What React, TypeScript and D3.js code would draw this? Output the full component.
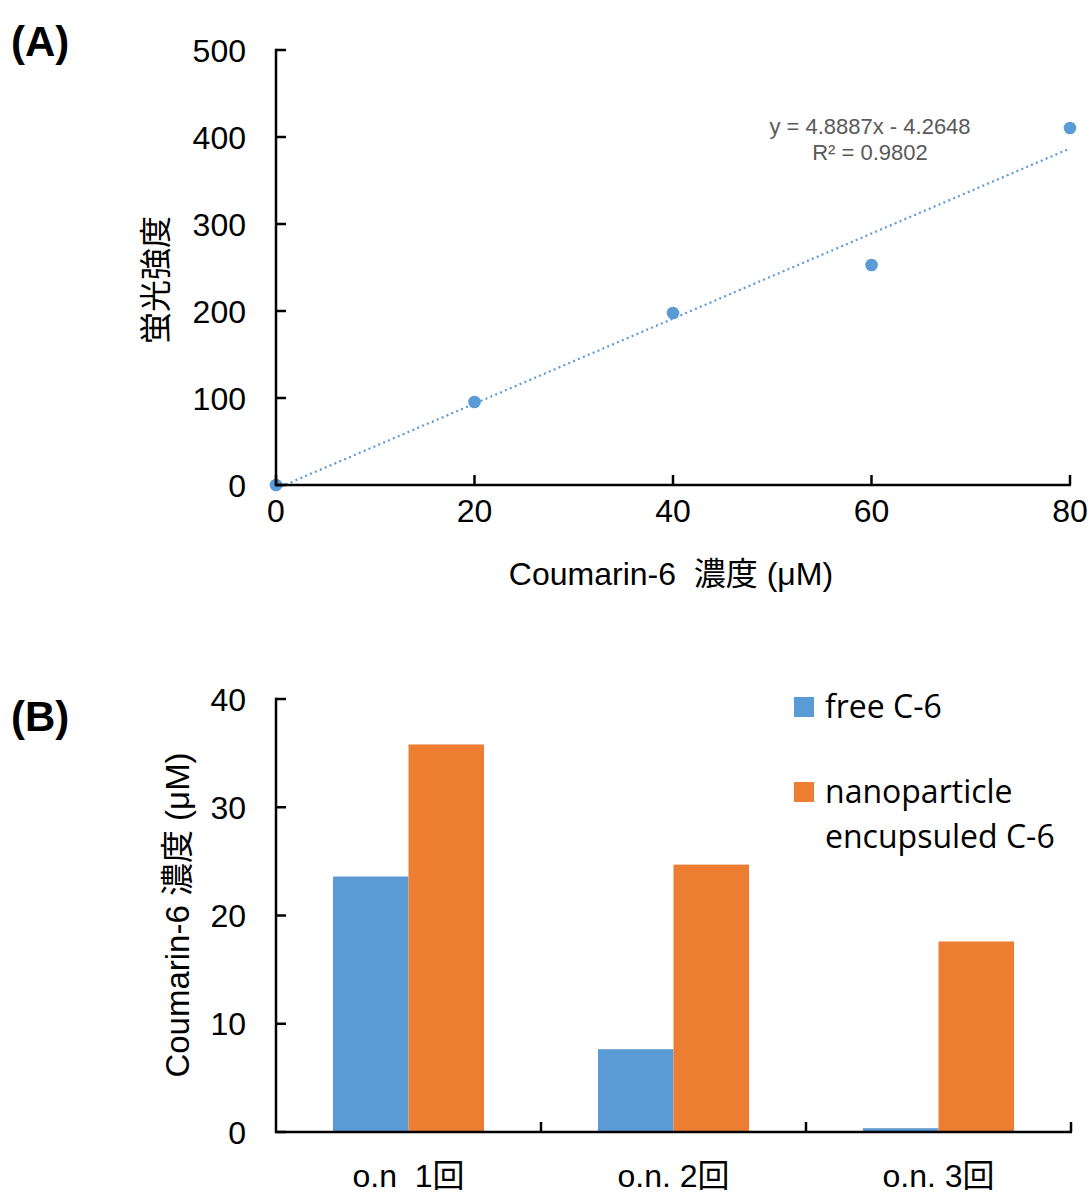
import React from "react";
import * as d3 from "d3";

// Chart A data
const concX = [0, 20, 40, 60, 80];
const fluorY = [0, 95.4, 197.7, 252.9, 410.3];
const slope = 4.8887;
const intercept = -4.2648;
const eqLabel = "y = 4.8887x - 4.2648";
const r2Label = "R² = 0.9802";
const aYTicks = [0, 100, 200, 300, 400, 500];
const aXTicks = [0, 20, 40, 60, 80];

// Chart B data
const categories = ["o.n  1回", "o.n. 2回", "o.n. 3回"];
const freeC6 = [23.6, 7.65, 0.35];
const nanoC6 = [35.8, 24.7, 17.6];
const bYTicks = [0, 10, 20, 30, 40];
const seriesNames = ["free C-6", "nanoparticle", "encupsuled C-6"];

const BLUE = "#5B9BD5";
const ORANGE = "#ED7D31";
const AX = "#000";
const TICKFONT = "'Liberation Sans', Arial, sans-serif";
const CJK = "'Liberation Sans', 'Noto Sans CJK JP', sans-serif";
const LEG = "'Open Sans', sans-serif";

export default function App() {
  const W = 1092, H = 1194;
  // Chart A scales
  const ax = d3.scaleLinear().domain([0, 80]).range([276, 1070]);
  const ay = d3.scaleLinear().domain([0, 500]).range([485, 50]);
  // Chart B scales
  const bx = d3.scaleBand().domain(categories).range([276, 1071]).paddingInner(0).paddingOuter(0);
  const by = d3.scaleLinear().domain([0, 40]).range([1132, 699]);
  const bw = bx.bandwidth();
  const barW = 75.5;
  const trend = d3.line<number>().x((d) => ax(d)).y((d) => ay(slope * d + intercept));

  return (
    <svg width={W} height={H} style={{ position: "absolute", left: 0, top: 0, background: "#fff" }}>
      {/* Panel labels */}
      <text x={11} y={56} fontFamily={TICKFONT} fontWeight="bold" fontSize={42}>(A)</text>
      <text x={11} y={731} fontFamily={TICKFONT} fontWeight="bold" fontSize={42}>(B)</text>

      {/* ===== Chart A ===== */}
      <path d={trend([0, 80]) || ""} fill="none" stroke={BLUE} strokeWidth={2.2} strokeDasharray="2 3.3" />
      {concX.map((x, i) => (
        <circle key={i} cx={ax(x)} cy={ay(fluorY[i])} r={6.3} fill={BLUE} />
      ))}
      <line x1={276} x2={276} y1={ay(500) - 1.2} y2={ay(0) + 1.2} stroke={AX} strokeWidth={2.5} />
      <line x1={276} x2={1071} y1={485} y2={485} stroke={AX} strokeWidth={2.5} />
      {aYTicks.map((t) => (
        <g key={t}>
          <line x1={276} x2={286} y1={ay(t)} y2={ay(t)} stroke={AX} strokeWidth={2.5} />
          <text x={246} y={ay(t) + 11.5} textAnchor="end" fontFamily={TICKFONT} fontSize={32}>{t}</text>
        </g>
      ))}
      {aXTicks.map((t) => (
        <g key={t}>
          <line x1={ax(t)} x2={ax(t)} y1={485} y2={475} stroke={AX} strokeWidth={2.5} />
          <text x={ax(t)} y={522} textAnchor="middle" fontFamily={TICKFONT} fontSize={32}>{t}</text>
        </g>
      ))}
      <text x={870} y={134} textAnchor="middle" fontFamily={TICKFONT} fontSize={22} fill="#595959">{eqLabel}</text>
      <text x={870} y={160} textAnchor="middle" fontFamily={TICKFONT} fontSize={22} fill="#595959">{r2Label}</text>
      <text x={671} y={585} textAnchor="middle" fontFamily={CJK} fontSize={32} xmlSpace="preserve">Coumarin-6  濃度 (μM)</text>
      <text transform="translate(167,280) rotate(-90)" textAnchor="middle" fontFamily="'Noto Sans CJK JP', sans-serif" fontSize={32}>蛍光強度</text>

      {/* ===== Chart B ===== */}
      {categories.map((c, i) => {
        const cx = (bx(c) as number) + bw / 2;
        return (
          <g key={c}>
            <rect x={cx - barW} y={by(freeC6[i])} width={barW} height={by(0) - by(freeC6[i])} fill={BLUE} />
            <rect x={cx} y={by(nanoC6[i])} width={barW} height={by(0) - by(nanoC6[i])} fill={ORANGE} />
            <text x={cx} y={1187} textAnchor="middle" fontFamily={CJK} fontSize={32} xmlSpace="preserve">{c}</text>
          </g>
        );
      })}
      <line x1={276} x2={276} y1={699 - 1.2} y2={1133} stroke={AX} strokeWidth={2.5} />
      <line x1={275} x2={1072} y1={1132} y2={1132} stroke={AX} strokeWidth={2.5} />
      {bYTicks.map((t) => (
        <g key={t}>
          <line x1={276} x2={286} y1={by(t)} y2={by(t)} stroke={AX} strokeWidth={2.5} />
          <text x={246} y={by(t) + 11.5} textAnchor="end" fontFamily={TICKFONT} fontSize={32}>{t}</text>
        </g>
      ))}
      {[...categories.map((c) => bx(c) as number), 1071].slice(1).map((x, i) => (
        <line key={i} x1={x} x2={x} y1={1132} y2={1122} stroke={AX} strokeWidth={2.5} />
      ))}
      <text transform="translate(189,915) rotate(-90)" textAnchor="middle" fontFamily={CJK} fontSize={33}>Coumarin-6 濃度 (μM)</text>

      {/* Legend */}
      <rect x={794} y={697} width={20} height={20} fill={BLUE} />
      <text x={825} y={718} fontFamily={LEG} fontSize={32}>{seriesNames[0]}</text>
      <rect x={794} y={782} width={20} height={20} fill={ORANGE} />
      <text x={825} y={803} fontFamily={LEG} fontSize={32}>{seriesNames[1]}</text>
      <text x={825} y={848} fontFamily={LEG} fontSize={32}>{seriesNames[2]}</text>
    </svg>
  );
}
